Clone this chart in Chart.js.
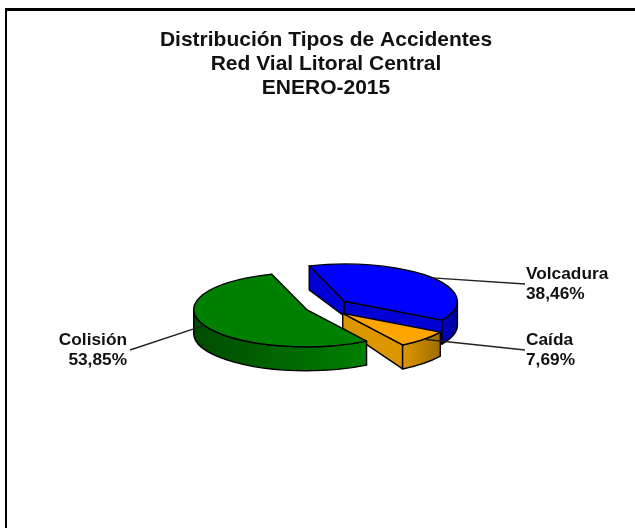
<!DOCTYPE html>
<html>
<head>
<meta charset="utf-8">
<script src="https://cdn.jsdelivr.net/npm/chart.js@4"></script>
<style>
html,body{margin:0;padding:0;background:#fff;overflow:hidden;width:635px;height:528px}
#frame{position:absolute;left:5px;top:8px;width:700px;height:600px;border-left:2px solid #000;border-top:3px solid #000;background:#fff}
#wrap{position:absolute;left:10px;top:11px;width:632px;height:517px}
</style>
</head>
<body>
<div id="frame"></div>
<div id="wrap"><canvas id="c" width="632" height="517"></canvas></div>
<script>
const titleLines = ['Distribución Tipos de Accidentes', 'Red Vial Litoral Central', 'ENERO-2015'];
const categories = ['Colisión', 'Volcadura', 'Caída'];
const values = [53.85, 38.46, 7.69];
const faceColors = ['#008000', '#0000ff', '#ffa500'];

const TILT = 0.33, DEPTH = 24, CENTER_DEPTH = 15, SHIFT_X = -3;
const explode = [18, 27.5, 27.5];
const radialColors = ['#006000', '#0000d4', '#dc9600'];
const wallGradients = [['#004c00', '#008000'], ['#0000c4', '#00009a'], ['#dc9600', '#a06c00']];
const drawOrder = [1, 2, 0];

function fmt(v) { return v.toFixed(2).replace('.', ',') + '%'; }

const pie3d = {
  id: 'pie3d',
  beforeDatasetDraw(chart, args) {
    const ctx = chart.ctx;
    const arcs = args.meta.data;
    const geo = arcs.map((arc, i) => {
      const mid = (arc.startAngle + arc.endAngle) / 2;
      return {
        arc, mid,
        r: arc.outerRadius, ry: arc.outerRadius * TILT,
        sx: arc.x + SHIFT_X + Math.cos(mid) * explode[i],
        sy: arc.y + Math.sin(mid) * explode[i] * TILT
      };
    });
    ctx.save();
    ctx.strokeStyle = '#000';
    ctx.lineWidth = 1.4;
    ctx.lineJoin = 'round';
    drawOrder.forEach(i => {
      const g = geo[i], a0 = g.arc.startAngle, a1 = g.arc.endAngle;
      const rim = a => [g.sx + g.r * Math.cos(a), g.sy + g.ry * Math.sin(a)];
      const radial = a => {
        const p = rim(a);
        ctx.beginPath();
        ctx.moveTo(g.sx, g.sy);
        ctx.lineTo(p[0], p[1]);
        ctx.lineTo(p[0], p[1] + DEPTH);
        ctx.lineTo(g.sx, g.sy + CENTER_DEPTH);
        ctx.closePath();
        ctx.fillStyle = radialColors[i];
        ctx.fill();
        ctx.stroke();
      };
      if (Math.sin(a0 - Math.PI / 2) > 0) radial(a0);
      if (Math.sin(a1 + Math.PI / 2) > 0) radial(a1);
      // curved outer wall: only the part facing the viewer
      const TAU = Math.PI * 2;
      for (let k = -1; k <= 2; k++) {
        const w0 = Math.max(a0, k * TAU), w1 = Math.min(a1, k * TAU + Math.PI);
        if (w1 > w0) {
          const p0 = rim(w0), p1 = rim(w1);
          const grad = ctx.createLinearGradient(Math.min(p0[0], p1[0]), 0, Math.max(p0[0], p1[0]), 0);
          grad.addColorStop(0, wallGradients[i][0]);
          grad.addColorStop(1, wallGradients[i][1]);
          ctx.beginPath();
          ctx.ellipse(g.sx, g.sy, g.r, g.ry, 0, w0, w1);
          ctx.ellipse(g.sx, g.sy + DEPTH, g.r, g.ry, 0, w1, w0, true);
          ctx.closePath();
          ctx.fillStyle = grad;
          ctx.fill();
          ctx.stroke();
        }
      }
      // top face through the library's own arc element
      ctx.save();
      ctx.translate(g.sx, g.sy);
      ctx.scale(1, TILT);
      ctx.translate(-g.arc.x, -g.arc.y);
      g.arc.draw(ctx);
      ctx.restore();
      ctx.beginPath();
      ctx.moveTo(g.sx, g.sy);
      ctx.ellipse(g.sx, g.sy, g.r, g.ry, 0, a0, a1);
      ctx.closePath();
      ctx.stroke();
    });
    // leader lines and labels
    const ends = [
      { x: 120, y: 339, tx: 117, align: 'right', ly: 329 },
      { x: 515, y: 273, tx: 516, align: 'left', ly: 263 },
      { x: 515, y: 339, tx: 516, align: 'left', ly: 329 }
    ];
    geo.forEach((g, i) => {
      const e = ends[i];
      ctx.beginPath();
      ctx.moveTo(g.sx + g.r * Math.cos(g.mid), g.sy + g.ry * Math.sin(g.mid));
      ctx.lineTo(e.x, e.y);
      ctx.strokeStyle = '#222';
      ctx.stroke();
      ctx.fillStyle = '#111';
      ctx.font = 'bold 17.3px "Liberation Sans", Arial, sans-serif';
      ctx.textAlign = e.align;
      ctx.textBaseline = 'middle';
      ctx.fillText(categories[i], e.tx, e.ly);
      ctx.fillText(fmt(values[i]), e.tx, e.ly + 20);
    });
    ctx.restore();
    return false;
  }
};

new Chart(document.getElementById('c'), {
  type: 'pie',
  data: {
    labels: categories,
    datasets: [{ data: values, backgroundColor: faceColors, borderWidth: 0 }]
  },
  options: {
    responsive: false,
    animation: false,
    events: [],
    rotation: 148,
    radius: 113,
    layout: { padding: { bottom: 24 } },
    plugins: {
      legend: { display: false },
      tooltip: { enabled: false },
      title: {
        display: true,
        text: titleLines,
        color: '#111',
        font: { family: '"Liberation Sans", Arial, sans-serif', size: 21, weight: 'bold', lineHeight: 1.143 },
        padding: { top: 17, bottom: 10 }
      }
    }
  },
  plugins: [pie3d]
});
</script>
</body>
</html>
